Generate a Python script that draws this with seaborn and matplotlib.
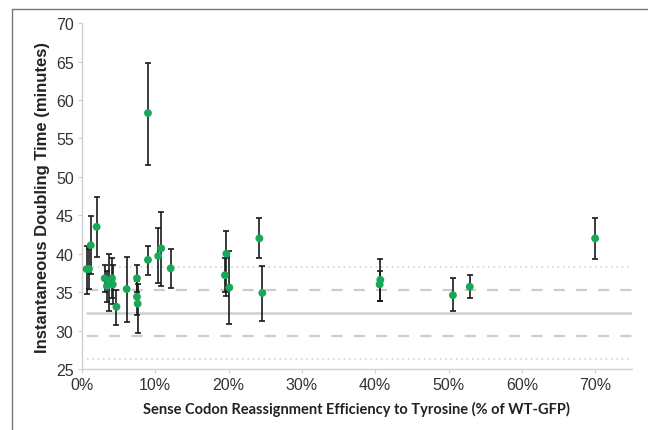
import seaborn as sns
import matplotlib.pyplot as plt
import pandas as pd
from matplotlib.lines import Line2D

# reassignment efficiency (% of WT-GFP) and doubling time (minutes)
efficiency = [0.64, 0.95, 1.2, 2.0, 3.1, 3.4, 3.7, 4.1, 4.2, 4.7, 6.1, 7.5, 7.5, 7.6,
              9.0, 9.0, 10.4, 10.8, 12.1, 19.5, 19.7, 20.1, 24.2, 24.6, 40.6, 40.7,
              50.6, 52.9, 70.0]
doubling = [38.0, 38.0, 41.1, 43.5, 36.8, 35.8, 36.3, 36.8, 36.0, 33.1, 35.4, 36.8, 34.4, 33.5,
            39.2, 58.3, 39.7, 40.7, 38.1, 37.2, 40.0, 35.6, 42.0, 34.9, 36.0, 36.6,
            34.6, 35.7, 42.0]
err_high = [41.0, 40.6, 44.9, 47.4, 38.5, 37.8, 40.0, 39.4, 38.5, 35.3, 39.6, 38.5, 36.5, 36.0,
            41.0, 64.8, 43.3, 45.4, 40.6, 39.5, 43.0, 40.4, 44.6, 38.4, 37.8, 39.3,
            36.9, 37.2, 44.6]
err_low = [34.8, 35.4, 37.4, 39.6, 35.0, 33.7, 32.5, 34.3, 33.5, 30.7, 31.1, 35.0, 32.0, 29.7,
           37.2, 51.5, 36.2, 35.8, 35.6, 35.0, 34.5, 30.9, 39.5, 31.3, 33.9, 33.9,
           32.6, 34.2, 39.3]

# reference band: mean, +-1 SD, +-2 SD
ref_mean = 32.3
ref_sd = 3.0

x_ticks = [0, 10, 20, 30, 40, 50, 60, 70]
y_ticks = [25, 30, 35, 40, 45, 50, 55, 60, 65, 70]

df = pd.DataFrame({"eff": efficiency, "dt": doubling, "hi": err_high, "lo": err_low})

sns.set_style("white")
plt.rcParams["font.family"] = ["Liberation Sans", "DejaVu Sans"]

fig = plt.figure(figsize=(6.48, 4.31), dpi=100)
ax = fig.add_axes([0.1265, 0.1415, 0.8485, 0.8025])

x0, x1 = min(efficiency), 75
ax.plot([x0, x1], [ref_mean] * 2, color="#d4d4d4", lw=2, zorder=1)
for k in (-1, 1):
    ax.plot([x0, x1], [ref_mean + k * ref_sd] * 2, color="#cccccc", lw=1.6,
            dashes=(5, 5), zorder=1)
    ax.plot([x0, x1], [ref_mean + 2 * k * ref_sd] * 2, color="#cccccc", lw=1.1,
            dashes=(1, 2.5), zorder=1)

ax.errorbar(df["eff"], df["dt"], yerr=[df["dt"] - df["lo"], df["hi"] - df["dt"]],
            fmt="none", ecolor="#1a1a1a", elinewidth=1.2, capsize=2.5, capthick=1.2,
            zorder=2)
sns.scatterplot(data=df, x="eff", y="dt", color="#17a957", s=32, edgecolor="none",
                ax=ax, zorder=3)

ax.set_xlim(0, 75)
ax.set_ylim(25, 70)
ax.set_xticks(x_ticks)
ax.set_xticklabels([f"{t}%" for t in x_ticks])
ax.set_yticks(y_ticks)
ax.tick_params(axis="both", labelsize=11.5, colors="#d0d0d0", labelcolor="#333333",
               length=3, width=0.8, direction="out", left=True, bottom=True, pad=3)

for side in ("top", "right"):
    ax.spines[side].set_visible(False)
for side in ("left", "bottom"):
    ax.spines[side].set_color("#d0d0d0")
    ax.spines[side].set_linewidth(1)

ax.set_ylabel("Instantaneous Doubling Time (minutes)", fontsize=12, fontweight="bold",
              color="#222222", labelpad=4)
ax.set_xlabel("Sense Codon Reassignment Efficiency to Tyrosine (% of WT-GFP)",
              fontsize=10.5, fontweight="bold", color="#222222", labelpad=6,
              family=["Lato", "DejaVu Sans"])

# thin frame along the top and left edge of the picture
fig.add_artist(Line2D([0.018, 1.0], [0.977, 0.977], color="#777777", lw=1,
                      transform=fig.transFigure))
fig.add_artist(Line2D([0.018, 0.018], [0.0, 0.977], color="#777777", lw=1,
                      transform=fig.transFigure))

fig.savefig("out.png", dpi=100)
